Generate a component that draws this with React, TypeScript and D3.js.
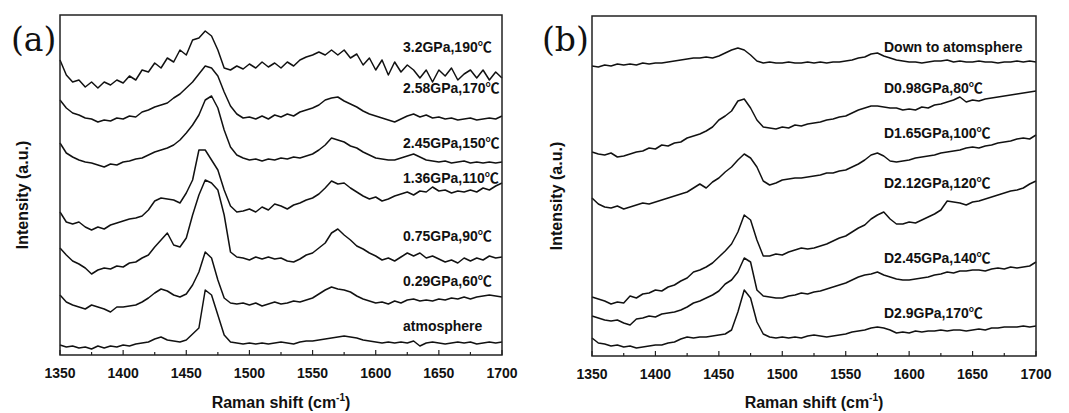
import React from "react";
import * as d3 from "d3";

// Raman shift grid (cm^-1), every 5 cm^-1 from 1350 to 1700
const shifts: number[] = d3.range(1350, 1701, 5);

// Panel (a) traces, intensity in arbitrary units (stacked offsets included)
const a_3_2: number[] = [295,280,273,275,268,273,267,273,270,275,272,279,275,285,283,292,287,297,293,305,300,315,317,324,319,305,287,285,289,286,291,287,293,288,292,287,293,289,295,298,300,303,300,305,300,305,297,301,290,297,285,295,280,293,283,290,285,277,285,273,285,279,287,275,281,285,277,285,275,283,277];
const a_2_58: number[] = [255,247,242,240,237,236,233,235,234,237,236,239,238,243,245,248,250,252,257,261,267,273,281,289,287,279,263,249,241,237,238,236,239,236,240,238,241,239,243,245,247,250,255,257,258,254,251,248,244,241,239,237,235,233,236,239,241,238,240,237,238,236,237,235,236,237,235,236,237,236,239];
const a_2_45: number[] = [212,202,198,195,193,192,190,188,191,190,193,194,196,197,200,203,205,207,210,215,222,230,240,255,259,247,225,208,200,197,195,196,194,196,195,197,196,198,197,199,201,205,210,217,215,213,209,207,203,200,197,196,195,195,197,199,201,198,195,194,193,194,192,193,194,192,193,192,193,192,193];
const a_1_36: number[] = [143,133,131,133,128,125,128,126,130,132,134,136,137,139,145,154,157,156,155,152,162,175,205,205,195,185,165,149,143,144,146,143,148,145,151,149,146,150,152,155,157,161,167,174,171,172,167,163,159,156,158,154,156,159,161,163,160,164,163,168,164,165,162,164,163,165,163,167,165,169,172];
const a_0_75: number[] = [107,100,94,91,87,81,85,87,86,89,88,92,93,97,100,108,115,122,110,108,117,140,160,175,172,165,140,103,98,97,95,98,96,98,96,97,94,93,96,100,102,107,112,122,126,120,115,109,106,102,99,95,97,94,98,102,99,102,97,99,96,93,95,92,97,94,97,95,99,97,98];
const a_0_29: number[] = [60,53,50,48,46,50,48,46,43,48,48,49,50,53,57,62,66,64,60,58,61,70,83,103,97,75,57,52,51,52,50,52,49,51,53,51,52,54,53,55,57,61,65,68,66,65,63,59,56,54,52,53,51,54,52,55,56,54,55,54,56,55,57,56,58,56,58,59,60,59,58];
const a_atm: number[] = [10,8,9,7,8,6,9,7,9,8,10,9,11,12,13,16,18,15,14,13,15,21,27,65,60,40,20,13,12,11,12,11,12,11,12,13,12,11,13,14,14,15,16,17,18,19,18,17,15,14,13,12,13,12,13,12,14,9,12,13,12,11,12,13,12,13,11,12,13,12,13];

// Panel (b) traces
const b_down: number[] = [290,289,291,290,292,291,292,291,293,292,293,293,294,295,296,297,298,298,299,298,300,303,306,308,306,301,295,293,294,293,293,294,293,293,294,293,294,293,294,294,295,296,298,299,302,303,300,298,296,295,294,294,293,294,295,295,296,294,295,294,294,295,294,294,293,294,294,295,294,295,294];
const b_0_98: number[] = [204,202,201,203,199,200,202,204,205,208,207,211,210,213,214,218,220,222,225,229,236,240,245,255,257,248,236,229,228,227,229,228,231,230,232,233,234,236,237,239,240,243,246,248,250,250,249,248,248,246,247,246,249,248,251,252,254,256,259,254,256,255,257,258,259,260,261,262,263,264,265];
const b_1_65: number[] = [158,152,149,148,150,147,149,151,153,152,154,156,158,160,162,164,168,172,168,174,178,184,189,196,202,198,189,175,171,173,176,177,178,178,179,180,181,183,183,185,186,189,192,196,201,203,200,195,194,195,196,198,199,200,201,203,204,205,206,208,209,208,210,211,213,214,215,217,218,217,221];
const b_2_12: number[] = [59,57,55,52,54,53,60,58,62,63,66,65,69,71,75,78,84,86,89,93,99,105,112,124,141,136,116,100,100,102,101,104,106,108,107,108,110,112,115,118,120,124,128,131,137,141,144,137,132,132,134,133,136,139,142,146,155,154,153,151,154,155,157,159,161,163,165,166,168,172,175];
const b_2_45: number[] = [40,38,36,35,36,33,31,37,38,40,39,42,43,44,46,49,53,55,58,61,65,72,76,84,98,94,66,60,59,58,58,60,61,63,62,64,65,67,69,71,73,76,79,81,82,84,81,79,77,76,76,77,78,79,81,82,84,83,85,85,86,86,85,87,88,87,89,88,89,90,94];
const b_2_9: number[] = [18,13,12,10,11,9,10,8,9,10,11,11,13,14,17,19,18,19,19,20,21,22,26,44,66,58,34,22,19,18,19,18,19,18,20,21,20,19,20,21,22,24,25,26,28,29,28,26,23,24,23,25,24,25,25,26,25,26,26,25,26,27,26,28,28,29,29,29,30,29,30];

const labelsA: string[] = ["3.2GPa,190℃", "2.58GPa,170℃", "2.45GPa,150℃", "1.36GPa,110℃", "0.75GPa,90℃", "0.29GPa,60℃", "atmosphere"];
const labelsB: string[] = ["Down to atomsphere", "D0.98GPa,80℃", "D1.65GPa,100℃", "D2.12GPa,120℃", "D2.45GPa,140℃", "D2.9GPa,170℃"];
const seriesA: number[][] = [a_3_2, a_2_58, a_2_45, a_1_36, a_0_75, a_0_29, a_atm];
const seriesB: number[][] = [b_down, b_0_98, b_1_65, b_2_12, b_2_45, b_2_9];
// label baselines, in the same intensity units
const labelLevelA: number[] = [303, 262, 207, 172, 114, 69, 24];
const labelLevelB: number[] = [304, 263, 218, 168, 93, 38];

const xTicks: number[] = [1350, 1400, 1450, 1500, 1550, 1600, 1650, 1700];

const SANS = "'Liberation Sans', Arial, 'Noto Sans CJK SC', sans-serif";

type PanelProps = {
  left: number; right: number; top: number; bottom: number;
  series: number[][]; labels: string[]; levels: number[];
  labelX: number; letter: string; letterX: number; yTitleX: number;
};

function Panel(p: PanelProps) {
  const x = d3.scaleLinear().domain([1350, 1700]).range([p.left, p.right]);
  const y = d3.scaleLinear().domain([0, 340]).range([p.bottom, p.top]);
  const line = d3.line<number>().x((_, i) => x(shifts[i])).y((d) => y(d));
  const minor = d3.range(1375, 1700, 50);
  const midY = (p.top + p.bottom) / 2;
  return (
    <g>
      {p.series.map((s, i) => (
        <path key={i} d={line(s) || ""} fill="none" stroke="#111" strokeWidth={1.5} strokeLinejoin="round" />
      ))}
      <rect x={p.left} y={p.top} width={p.right - p.left} height={p.bottom - p.top} fill="none" stroke="#222" strokeWidth={1.5} />
      {xTicks.map((t) => (
        <g key={t}>
          <line x1={x(t)} x2={x(t)} y1={p.bottom} y2={p.bottom - 5} stroke="#222" strokeWidth={1.2} />
          <text x={x(t)} y={p.bottom + 23} textAnchor="middle" fontFamily={SANS} fontWeight="bold" fontSize={14} fill="#111">{t}</text>
        </g>
      ))}
      {minor.map((t) => (
        <line key={t} x1={x(t)} x2={x(t)} y1={p.bottom} y2={p.bottom - 3} stroke="#222" strokeWidth={1.2} />
      ))}
      {p.labels.map((l, i) => (
        <text key={l} x={p.labelX} y={y(p.levels[i])} fontFamily={SANS} fontWeight="bold" fontSize={14} fill="#111">{l}</text>
      ))}
      <text x={(p.left + p.right) / 2} y={408} textAnchor="middle" fontFamily={SANS} fontWeight="bold" fontSize={16} fill="#111">
        Raman shift (cm<tspan fontSize={10} dy={-7}>-1</tspan><tspan dy={7}>)</tspan>
      </text>
      <text transform={`translate(${p.yTitleX},${midY + 10}) rotate(-90)`} textAnchor="middle" fontFamily={SANS} fontWeight="bold" fontSize={16} fill="#111">
        Intensity (a.u.)
      </text>
      <text x={p.letterX} y={51} fontFamily="'DejaVu Serif', serif" fontSize={33} fill="#111">{p.letter}</text>
    </g>
  );
}

export default function App() {
  return (
    <svg width={1069} height={413} style={{ position: "absolute", left: 0, top: 0, background: "#fff" }}>
      <rect width={1069} height={413} fill="#fff" />
      <Panel left={60} right={502} top={15} bottom={355} series={seriesA} labels={labelsA} levels={labelLevelA}
        labelX={403} letter="(a)" letterX={11} yTitleX={28} />
      <Panel left={592} right={1036} top={16} bottom={356} series={seriesB} labels={labelsB} levels={labelLevelB}
        labelX={884} letter="(b)" letterX={542} yTitleX={562} />
    </svg>
  );
}
